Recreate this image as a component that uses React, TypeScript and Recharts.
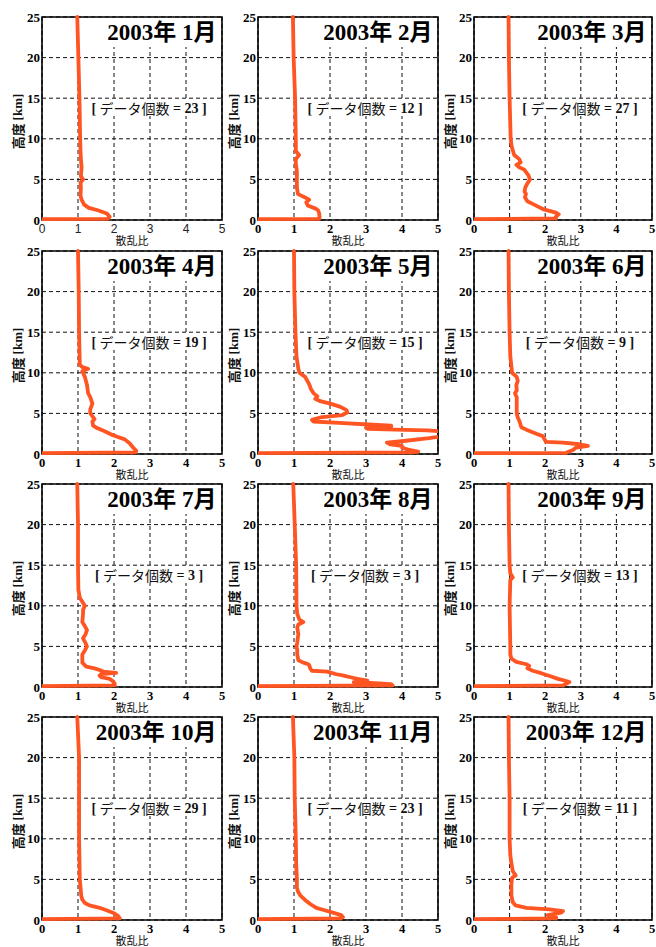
import { LineChart, Line, XAxis, YAxis, CartesianGrid, ReferenceArea } from 'recharts';

const year = 2003;
const months = ['1月', '2月', '3月', '4月', '5月', '6月', '7月', '8月', '9月', '10月', '11月', '12月'];
const counts = [23, 12, 27, 19, 15, 9, 3, 3, 13, 29, 23, 11];
const ratioTicks = [0, 1, 2, 3, 4, 5];
const altTicks = [0, 5, 10, 15, 20, 25];

// monthly mean profiles: [altitude km, scattering ratio]
const jan = [[0.1, 0], [0.15, 1.82], [0.4, 1.88], [0.8, 1.8], [1.2, 1.55], [1.5, 1.3], [1.9, 1.17], [2.5, 1.1], [3.0, 1.07], [4.0, 1.08], [4.6, 1.07], [5.0, 1.14], [5.4, 1.08], [6.5, 1.1], [7.5, 1.08], [8.5, 1.07], [10, 1.06], [15, 1.04], [20, 1.01], [25, 0.98]];
const feb = [[0.1, 0], [0.15, 1.7], [0.3, 1.71], [0.8, 1.7], [1.2, 1.67], [1.4, 1.6], [1.8, 1.38], [2.2, 1.34], [2.5, 1.42], [2.7, 1.34], [3.0, 1.2], [3.2, 1.11], [4, 1.08], [5, 1.08], [6, 1.08], [7, 1.05], [7.5, 1.05], [8.0, 1.14], [8.5, 1.05], [10, 1.05], [15, 1.03], [20, 0.99], [25, 0.97]];
const mar = [[0.1, 0], [0.2, 2.3], [0.4, 2.3], [0.7, 2.38], [0.9, 2.3], [1.3, 1.96], [1.8, 1.73], [2.3, 1.5], [2.8, 1.43], [3.2, 1.46], [3.5, 1.42], [4.0, 1.44], [4.5, 1.5], [5.0, 1.57], [5.5, 1.53], [6.2, 1.41], [6.5, 1.27], [6.8, 1.19], [7.1, 1.31], [7.5, 1.27], [8, 1.13], [9, 1.06], [10, 1.03], [15, 1.0], [20, 0.98], [25, 0.97]];
const apr = [[0.1, 0], [0.2, 2.6], [0.4, 2.62], [0.8, 2.53], [1.3, 2.44], [1.8, 2.3], [2.3, 1.97], [2.8, 1.74], [3.2, 1.53], [3.5, 1.42], [4.0, 1.4], [4.3, 1.46], [5.0, 1.34], [5.5, 1.34], [6.2, 1.4], [7.0, 1.34], [7.5, 1.28], [8.5, 1.25], [9.5, 1.19], [10.2, 1.12], [10.5, 1.28], [10.7, 1.12], [11, 1.05], [15, 1.03], [20, 1.02], [25, 1.0]];
const may = [[0.1, 0], [0.2, 4.3], [0.3, 4.45], [0.5, 4.2], [0.8, 4.0], [1.0, 4.0], [1.2, 3.67], [1.4, 3.58], [1.6, 4.05], [1.75, null], [1.95, 4.75], [2.1, 5.0], [2.4, 5.4], [2.8, 5.05], [2.9, 4.7], [3.0, 3.8], [3.1, 3.05], [3.25, 3.0], [3.4, 3.7], [3.5, 3.7], [3.6, 3.2], [3.8, 2.38], [4.0, 1.54], [4.2, 1.5], [4.5, 1.73], [4.8, 2.34], [5.1, 2.48], [5.4, 2.46], [5.8, 2.29], [6.2, 2.01], [6.5, 1.73], [6.8, 1.59], [7.1, 1.65], [7.5, 1.54], [8, 1.47], [8.5, 1.43], [9, 1.37], [9.5, 1.31], [10, 1.15], [10.5, 1.12], [12, 1.07], [15, 1.04], [20, 1.01], [25, 1.0]];
const jun = [[0.1, 0], [0.15, 2.6], [0.25, 2.64], [0.5, 2.78], [0.8, 2.87], [1.0, 3.2], [1.2, 2.96], [1.4, 2.5], [1.5, 2.03], [1.8, 1.98], [2.2, 1.93], [2.5, 1.75], [3.0, 1.47], [3.3, 1.33], [4.0, 1.28], [4.5, 1.23], [5, 1.2], [6, 1.2], [7, 1.2], [7.5, 1.15], [7.8, 1.2], [8.5, 1.19], [9, 1.23], [9.5, 1.2], [10, 1.07], [12, 1.02], [15, 1.0], [20, 0.98], [25, 0.97]];
const jul = [[0.1, 0], [0.2, 2.02], [0.4, 2.02], [0.7, 1.97], [1.0, 1.88], [1.2, 1.65], [1.4, 1.6], [1.6, 1.65], [1.75, 2.06], [1.9, 1.7], [2.1, 1.6], [2.3, 1.46], [2.5, 1.23], [3, 1.12], [4, 1.12], [4.5, 1.19], [5, 1.25], [5.5, 1.2], [6, 1.14], [6.5, 1.21], [7, 1.25], [7.5, 1.19], [8, 1.12], [9, 1.14], [9.5, 1.14], [10, 1.19], [11, 1.05], [12, 1.01], [15, 1.0], [20, 1.0], [25, 0.98]];
const aug = [[0.1, 0], [0.2, 3.74], [0.35, 3.69], [0.5, 3.13], [0.6, 2.66], [0.8, 3.04], [1.0, 2.76], [1.2, 2.57], [1.4, 2.38], [1.6, 2.15], [1.8, 2.0], [1.9, 1.92], [2.0, 1.5], [2.3, 1.45], [2.6, 1.43], [2.8, 1.4], [3.0, 1.26], [3.3, 1.12], [4, 1.09], [4.5, 1.09], [5, 1.07], [5.5, 1.09], [6.5, 1.12], [7.3, 1.09], [7.7, 1.12], [8.0, 1.26], [8.3, 1.15], [9, 1.09], [10, 1.07], [15, 1.06], [20, 1.02], [25, 0.98]];
const sep = [[0.1, 0], [0.2, 2.5], [0.4, 2.59], [0.6, 2.68], [0.8, 2.54], [1.0, 2.36], [1.3, 2.17], [1.7, 1.89], [2.0, 1.65], [2.3, 1.5], [2.6, 1.55], [2.8, 1.47], [3.1, 1.19], [3.5, 1.05], [4, 1.02], [5, 1.02], [10, 1.0], [13.2, 1.02], [13.5, 1.09], [14, 1.02], [15, 1.0], [20, 0.98], [25, 0.97]];
const oct = [[0.1, 0], [0.2, 2.16], [0.5, 2.11], [0.9, 1.97], [1.2, 1.79], [1.5, 1.6], [1.8, 1.32], [2.1, 1.19], [2.5, 1.12], [3, 1.09], [4, 1.07], [5, 1.05], [10, 1.03], [15, 1.03], [20, 1.03], [25, 0.98]];
const nov = [[0.1, 0], [0.2, 2.3], [0.35, 2.36], [0.6, 2.31], [0.9, 2.08], [1.2, 1.85], [1.5, 1.62], [2.0, 1.44], [2.5, 1.3], [3.0, 1.18], [3.5, 1.11], [4, 1.08], [5, 1.08], [7, 1.06], [10, 1.05], [15, 1.02], [20, 1.01], [25, 0.97]];
const dec = [[0.1, 0], [0.2, 2.3], [0.3, 2.31], [0.6, 2.07], [0.9, 2.45], [1.1, 2.5], [1.3, 2.12], [1.5, 1.47], [1.8, 1.17], [2.2, 1.09], [3, 1.05], [4, 1.05], [4.5, 1.05], [5.2, 1.07], [5.5, 1.17], [6, 1.09], [7, 1.05], [8, 1.02], [10, 1.0], [15, 1.0], [20, 0.98], [25, 0.97]];

const profiles = [jan, feb, mar, apr, may, jun, jul, aug, sep, oct, nov, dec];

const SERIF = '"Liberation Serif", "Noto Sans CJK JP", serif';
const SANS_JP = '"Noto Sans CJK JP", sans-serif';
const LINE_COLOR = '#ff5522';

// plot-area placement on the page
const colLeft = [42, 258, 474];
const colWidth = [180, 180, 178];
const rowTop = [17, 251, 484, 717];
const PLOT_H = 203;
const AXIS_W = 42;
const AXIS_H = 27;

function TitleLabel(props: any) {
  const { x, y, width } = props.viewBox;
  return (
    <text x={x + width - 4} y={y + 22} textAnchor="end" fontFamily={SERIF} fontSize={23} fontWeight="bold" fill="#000">
      {props.text}
    </text>
  );
}

function CountLabel(props: any) {
  const { x, y, width, height } = props.viewBox;
  return (
    <text x={x + width / 2} y={y + height / 2} textAnchor="middle" dominantBaseline="central" fontSize={14} fill="#111">
      <tspan fontFamily={SERIF} fontWeight="bold">[ </tspan>
      <tspan fontFamily={SANS_JP}>データ個数</tspan>
      <tspan fontFamily={SERIF} fontWeight="bold"> = {props.count} ]</tspan>
    </text>
  );
}

function XTitle(props: any) {
  const { x, y, width } = props.viewBox;
  return (
    <text x={x + width / 2} y={y + 19.5} textAnchor="middle" dominantBaseline="central" fontFamily={SANS_JP} fontSize={11} fill="#111">
      散乱比
    </text>
  );
}

function YTitle(props: any) {
  const { x, y, width, height } = props.viewBox;
  const cx = x + width - 25;
  const cy = y + height / 2 + 3;
  return (
    <text x={cx} y={cy} transform={`rotate(-90 ${cx} ${cy})`} textAnchor="middle" dominantBaseline="central" fontSize={13} fontWeight="bold" fill="#111">
      <tspan fontFamily={SANS_JP}>高度 </tspan>
      <tspan fontFamily={SERIF}>[km]</tspan>
    </text>
  );
}

function Panel({ idx }: { idx: number }) {
  const col = idx % 3;
  const row = Math.floor(idx / 3);
  const w = colWidth[col];
  const data = profiles[idx].map(([alt, ratio]) => ({ alt, ratio }));
  // the first panel's ratio ticks are set in a plain sans face
  const xTick = idx === 0
    ? { fontFamily: '"Liberation Sans", sans-serif', fontSize: 12, fill: '#222' }
    : { fontFamily: SERIF, fontSize: 12.5, fontWeight: 'bold', fill: '#000' };

  return (
    <div style={{ position: 'absolute', left: colLeft[col] - AXIS_W, top: rowTop[row] - 17 }}>
      <LineChart
        layout="vertical"
        width={AXIS_W + w + 6}
        height={17 + PLOT_H + AXIS_H}
        data={data}
        margin={{ top: 17, right: 6, bottom: 0, left: 0 }}
      >
        <CartesianGrid stroke="#111" strokeDasharray="4 3" />
        <XAxis
          type="number"
          domain={[0, 5]}
          ticks={ratioTicks}
          allowDataOverflow
          height={AXIS_H}
          axisLine={false}
          tickLine={false}
          tickSize={4}
          tickMargin={0}
          tick={xTick}
          label={<XTitle />}
        />
        <YAxis
          type="number"
          dataKey="alt"
          domain={[0, 25]}
          ticks={altTicks}
          reversed
          width={AXIS_W}
          axisLine={false}
          tickLine={false}
          tickSize={2}
          tickMargin={0}
          tick={{ fontFamily: SERIF, fontSize: 13, fontWeight: 'bold', fill: '#000' }}
          label={<YTitle />}
        />
        <ReferenceArea
          x1={1.4}
          x2={4.96}
          y1={21.3}
          y2={24.9}
          fill="#fff"
          fillOpacity={1}
          stroke="none"
          label={<TitleLabel text={`${year}年 ${months[idx]}`} />}
        />
        <ReferenceArea
          x1={1.45}
          x2={4.5}
          y1={12.8}
          y2={14.7}
          fill="#fff"
          fillOpacity={1}
          stroke="none"
          label={<CountLabel count={counts[idx]} />}
        />
        <Line
          dataKey="ratio"
          type="linear"
          stroke={LINE_COLOR}
          strokeWidth={3.8}
          strokeLinejoin="round"
          strokeLinecap="round"
          dot={false}
          activeDot={false}
          isAnimationActive={false}
        />
        <ReferenceArea x1={0} x2={5} y1={0} y2={25} fill="none" stroke="#000" strokeWidth={1.6} />
      </LineChart>
    </div>
  );
}

export default function App() {
  return (
    <div style={{ position: 'absolute', left: 0, top: 0, width: 656, height: 947, background: '#fff' }}>
      {profiles.map((_, i) => (
        <Panel key={i} idx={i} />
      ))}
    </div>
  );
}
